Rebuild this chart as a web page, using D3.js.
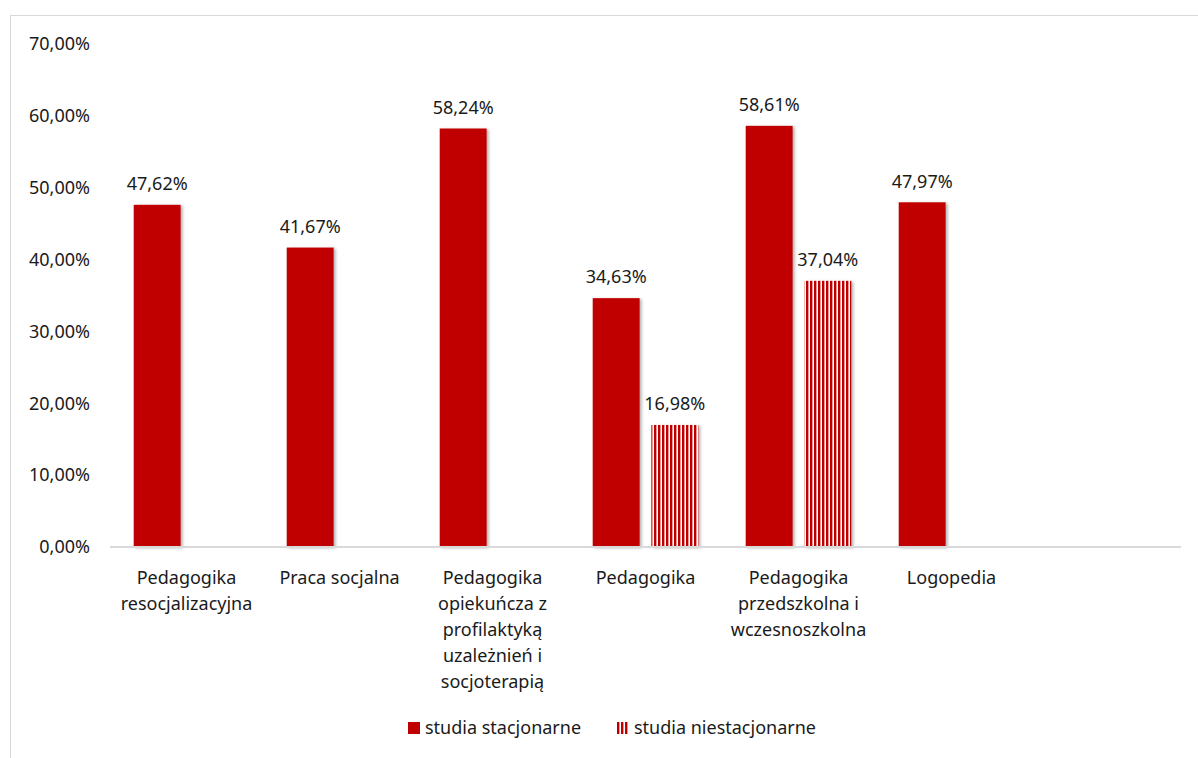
<!DOCTYPE html>
<html>
<head>
<meta charset="utf-8">
<script src="https://cdn.jsdelivr.net/npm/d3@7"></script>
<style>
  body { margin: 0; background: #fff; }
  svg { font-family: "Noto Sans", "Open Sans", sans-serif; }
</style>
</head>
<body>
<svg id="chart" width="1198" height="758"></svg>
<script>
var categories = [
    "Pedagogika resocjalizacyjna",
    "Praca socjalna",
    "Pedagogika opiekuńcza z profilaktyką uzależnień i socjoterapią",
    "Pedagogika",
    "Pedagogika przedszkolna i wczesnoszkolna",
    "Logopedia",
    ""
];
var seriesNames = ["studia stacjonarne", "studia niestacjonarne"];
var stacjonarne = [47.62, 41.67, 58.24, 34.63, 58.61, 47.97, null];
var niestacjonarne = [null, null, null, 16.98, 37.04, null, null];
var yTicks = [0, 10, 20, 30, 40, 50, 60, 70];

var svg = d3.select("#chart");
var red = "#c00000";
var margin = {left: 110, right: 17, top: 44, bottom: 211};
var width = 1198 - margin.left - margin.right;
var height = 758 - margin.top - margin.bottom;

var defs = svg.append("defs");
var pattern = defs.append("pattern")
    .attr("id", "stripes")
    .attr("patternUnits", "userSpaceOnUse")
    .attr("width", 4)
    .attr("height", 4);
pattern.append("rect").attr("width", 4).attr("height", 4).attr("fill", "#fff");
pattern.append("rect").attr("width", 2.4).attr("height", 4).attr("fill", red);

var shadow = defs.append("filter")
    .attr("id", "shadow")
    .attr("x", "-20%").attr("y", "-5%")
    .attr("width", "150%").attr("height", "115%");
shadow.append("feDropShadow")
    .attr("dx", 2).attr("dy", 1)
    .attr("stdDeviation", 1.6)
    .attr("flood-color", "#000")
    .attr("flood-opacity", 0.3);

// chart border
svg.append("rect")
    .attr("x", 10.5).attr("y", 15.5)
    .attr("width", 1200).attr("height", 800)
    .attr("fill", "none")
    .attr("stroke", "#d9d9d9")
    .attr("stroke-width", 1);

var g = svg.append("g").attr("transform", "translate(" + margin.left + "," + margin.top + ")");

var x0 = d3.scaleBand().domain(d3.range(categories.length)).range([0, width]).paddingInner(0.31).paddingOuter(0.155);
var x1 = d3.scaleBand().domain([0, 1]).range([0, x0.bandwidth()]).paddingInner(0.2);
var y = d3.scaleLinear().domain([0, 70]).range([height, 0]);

// y axis labels
g.selectAll(".ytick").data(yTicks).enter().append("text")
    .attr("class", "ytick")
    .attr("x", -20)
    .attr("y", function(d) {return y(d);})
    .attr("dy", "0.35em")
    .attr("text-anchor", "end")
    .attr("font-size", 18)
    .attr("fill", "#1a1a1a")
    .text(function(d) {return d3.format(".2f")(d).replace(".", ",") + "%";});

var rows = [];
categories.forEach(function(c, i) {
    [stacjonarne[i], niestacjonarne[i]].forEach(function(v, s) {
        if (v != null) rows.push({cat: i, s: s, v: v});
    });
});

g.selectAll(".bar").data(rows).enter().append("rect")
    .attr("class", "bar")
    .attr("x", function(d) {return x0(d.cat) + x1(d.s);})
    .attr("y", function(d) {return y(d.v);})
    .attr("width", x1.bandwidth())
    .attr("height", function(d) {return height - y(d.v);})
    .attr("fill", function(d) {return d.s === 0 ? red : "url(#stripes)";})
    .attr("filter", "url(#shadow)");

// axis line
g.append("line")
    .attr("x1", 0).attr("x2", width)
    .attr("y1", height).attr("y2", height)
    .attr("stroke", "#d9d9d9")
    .attr("stroke-width", 2);

g.selectAll(".vlabel").data(rows).enter().append("text")
    .attr("class", "vlabel")
    .attr("x", function(d) {return x0(d.cat) + x1(d.s) + x1.bandwidth() / 2;})
    .attr("y", function(d) {return y(d.v) - 21;})
    .attr("dy", "0.35em")
    .attr("text-anchor", "middle")
    .attr("font-size", 18)
    .attr("fill", "#1a1a1a")
    .text(function(d) {return d3.format(".2f")(d.v).replace(".", ",") + "%";});

// category labels
var catLabels = g.selectAll(".cat").data(categories).enter().append("text")
    .attr("class", "cat")
    .attr("x", function(d, i) {return x0(i) + x0.bandwidth() / 2;})
    .attr("y", height + 31)
    .attr("text-anchor", "middle")
    .attr("font-size", 18)
    .attr("fill", "#1a1a1a");

catLabels.each(function(d) {
    var text = d3.select(this);
    var words = d.split(" ");
    var line = [];
    var xPos = text.attr("x");
    var tspan = text.append("tspan").attr("x", xPos).attr("dy", "0.35em");
    words.forEach(function(w) {
        line.push(w);
        tspan.text(line.join(" "));
        if (tspan.node().getComputedTextLength() > 145 && line.length > 1) {
            line.pop();
            tspan.text(line.join(" "));
            line = [w];
            tspan = text.append("tspan").attr("x", xPos).attr("dy", 26).text(w);
        }
    });
});

// legend
var legend = svg.append("g").attr("transform", "translate(408,728)");
var legendX = [0, 209];
seriesNames.forEach(function(name, i) {
    var item = legend.append("g").attr("transform", "translate(" + legendX[i] + ",0)");
    item.append("rect")
        .attr("x", 0).attr("y", -6)
        .attr("width", 12).attr("height", 12)
        .attr("fill", i === 0 ? red : "url(#stripes)");
    item.append("text")
        .attr("x", 17).attr("y", 0)
        .attr("dy", "0.35em")
        .attr("font-size", 18)
        .attr("fill", "#1a1a1a")
        .text(name);
});
</script>
</body>
</html>
